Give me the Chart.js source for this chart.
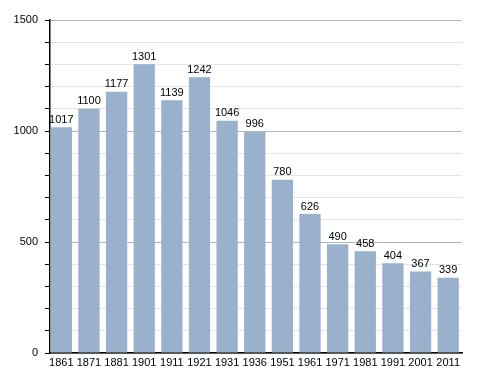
<!DOCTYPE html>
<html><head><meta charset="utf-8">
<script src="https://cdn.jsdelivr.net/npm/chart.js@4/dist/chart.umd.min.js"></script>
<style>html,body{margin:0;padding:0;background:#fff;}canvas{display:block;}</style>
</head><body>
<canvas id="c" width="488" height="373"></canvas>
<script>
const years = ['1861','1871','1881','1901','1911','1921','1931','1936','1951','1961','1971','1981','1991','2001','2011'];
const population = [1017,1100,1177,1301,1139,1242,1046,996,780,626,490,458,404,367,339];
const yMin = 0, yMax = 1500, yMinorStep = 100, yMajorStep = 500;

const valueLabels = {
  id: 'valueLabels',
  afterDatasetsDraw(chart) {
    const ctx = chart.ctx;
    const meta = chart.getDatasetMeta(0);
    ctx.save();
    ctx.font = '11px "Liberation Sans", Arial, sans-serif';
    ctx.fillStyle = '#000';
    ctx.textAlign = 'center';
    ctx.textBaseline = 'bottom';
    meta.data.forEach((bar, i) => {
      ctx.fillText(String(population[i]), bar.x, bar.y - 2);
    });
    ctx.restore();
  }
};

new Chart(document.getElementById('c'), {
  type: 'bar',
  data: {
    labels: years,
    datasets: [{
      data: population,
      backgroundColor: '#99b1cc',
      borderWidth: 0,
      barPercentage: 0.77,
      categoryPercentage: 1.0
    }]
  },
  options: {
    responsive: false,
    animation: false,
    plugins: { legend: { display: false }, tooltip: { enabled: false } },
    layout: { padding: { top: 20, right: 26, left: 0, bottom: 0 } },
    scales: {
      x: {
        grid: { display: false, drawTicks: false },
        border: { display: true, color: '#000', width: 1.5 },
        ticks: { color: '#000', padding: 3, maxRotation: 0, autoSkip: false,
          font: { family: '"Liberation Sans", Arial, sans-serif', size: 11 } },
        afterFit(s) { s.height = 20; },
        afterUpdate(s) { s._startValue = -0.41; s._valueRange = 14.91; }
      },
      y: {
        min: yMin, max: yMax,
        grid: {
          color: c => (c.tick && c.tick.value % yMajorStep === 0) ? '#b4b4b4' : '#e4e4e4',
          tickColor: '#000',
          tickLength: 5,
          drawTicks: true
        },
        border: { display: true, color: '#000', width: 1.5 },
        ticks: {
          stepSize: yMinorStep,
          padding: 7,
          color: '#000',
          font: { family: '"Liberation Sans", Arial, sans-serif', size: 11 },
          callback: v => (v % yMajorStep === 0 ? String(v) : '')
        },
        afterFit(s) { s.width = 50; }
      }
    }
  },
  plugins: [valueLabels]
});
</script>
</body></html>
